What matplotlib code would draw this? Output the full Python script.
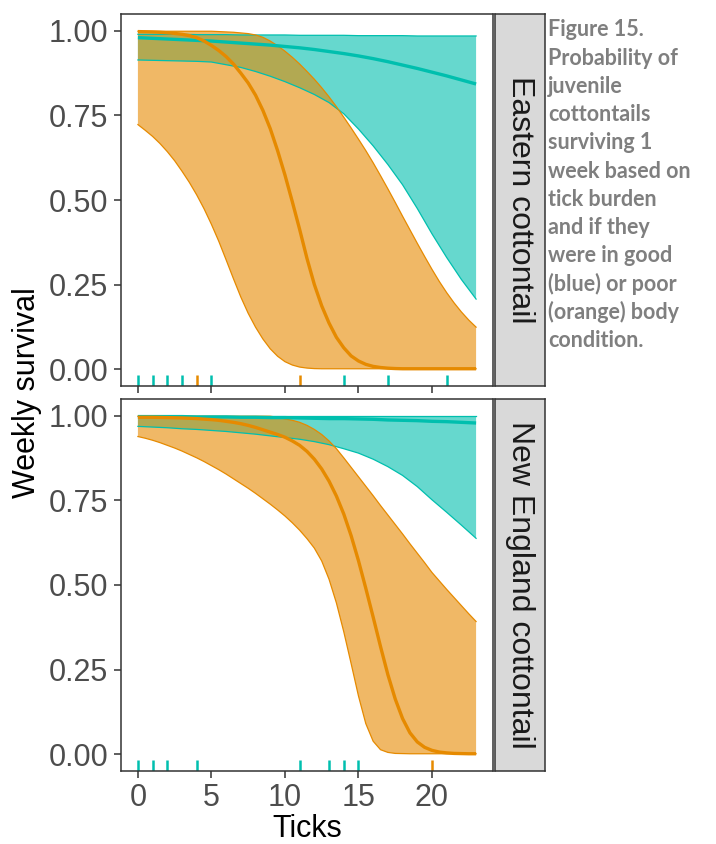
import matplotlib

matplotlib.use("Agg")
import matplotlib.pyplot as plt

# tick burden grids: good-condition curves read every tick, poor-condition every half tick
ticks_good = [0, 1, 2, 3, 4, 5, 6, 7, 8, 9, 10, 11, 12, 13, 14, 15, 16, 17, 18, 19, 20, 21, 22, 23]
ticks_poor = [0, 0.5, 1, 1.5, 2, 2.5, 3, 3.5, 4, 4.5, 5, 5.5, 6, 6.5, 7, 7.5, 8, 8.5, 9, 9.5,
              10, 10.5, 11, 11.5, 12, 12.5, 13, 13.5, 14, 14.5, 15, 15.5, 16, 16.5, 17, 17.5,
              18, 18.5, 19, 19.5, 20, 20.5, 21, 21.5, 22, 22.5, 23]

# Eastern cottontail, good (blue) body condition
east_good_fit = [0.980, 0.978, 0.976, 0.974, 0.972, 0.970, 0.967, 0.964, 0.961, 0.958, 0.954, 0.950,
                 0.945, 0.939, 0.933, 0.926, 0.918, 0.909, 0.899, 0.889, 0.878, 0.867, 0.855, 0.843]
east_good_lo = [0.914, 0.913, 0.912, 0.911, 0.910, 0.908, 0.900, 0.892, 0.880, 0.866, 0.850, 0.832,
                0.812, 0.788, 0.755, 0.710, 0.660, 0.605, 0.545, 0.475, 0.400, 0.330, 0.265, 0.207]
east_good_hi = [0.990, 0.990, 0.990, 0.990, 0.989, 0.989, 0.989, 0.988, 0.988, 0.988, 0.988, 0.987,
                0.987, 0.987, 0.987, 0.986, 0.986, 0.986, 0.986, 0.985, 0.985, 0.985, 0.985, 0.985]

# Eastern cottontail, poor (orange) body condition
east_poor_fit = [0.998, 0.9975, 0.997, 0.996, 0.9945, 0.9925, 0.990, 0.986, 0.980, 0.970,
                 0.957, 0.942, 0.924, 0.902, 0.875, 0.846, 0.810, 0.765, 0.711, 0.646,
                 0.574, 0.495, 0.413, 0.327, 0.250, 0.187, 0.136, 0.094, 0.063, 0.039,
                 0.024, 0.014, 0.008, 0.0047, 0.0027, 0.0016, 0.001, 0.001, 0.001, 0.001,
                 0.001, 0.001, 0.001, 0.001, 0.001, 0.001, 0.001]
east_poor_lo = [0.723, 0.706, 0.688, 0.667, 0.643, 0.616, 0.585, 0.552, 0.515, 0.474,
                0.428, 0.378, 0.323, 0.267, 0.213, 0.165, 0.124, 0.089, 0.060, 0.038,
                0.022, 0.012, 0.006, 0.003, 0.0015, 0.001, 0.001, 0.001, 0.001, 0.001,
                0.001, 0.001, 0.001, 0.001, 0.001, 0.001, 0.001, 0.001, 0.001, 0.001,
                0.001, 0.001, 0.001, 0.001, 0.001, 0.001, 0.001]
east_poor_hi = [0.999, 0.999, 0.999, 0.999, 0.999, 0.999, 0.999, 0.999, 0.999, 0.999,
                0.999, 0.998, 0.997, 0.996, 0.994, 0.992, 0.988, 0.981, 0.970, 0.956,
                0.940, 0.922, 0.902, 0.880, 0.857, 0.832, 0.805, 0.776, 0.745, 0.713,
                0.680, 0.646, 0.610, 0.572, 0.533, 0.493, 0.452, 0.412, 0.372, 0.333,
                0.295, 0.259, 0.226, 0.196, 0.169, 0.145, 0.124]

# New England cottontail, good condition
ne_good_fit = [0.998, 0.998, 0.998, 0.998, 0.997, 0.997, 0.997, 0.996, 0.996, 0.995, 0.995, 0.994,
               0.993, 0.992, 0.992, 0.991, 0.990, 0.988, 0.987, 0.986, 0.984, 0.983, 0.981, 0.979]
ne_good_lo = [0.969, 0.967, 0.965, 0.962, 0.960, 0.957, 0.954, 0.950, 0.946, 0.941, 0.936, 0.931,
              0.924, 0.915, 0.903, 0.890, 0.872, 0.850, 0.824, 0.791, 0.752, 0.715, 0.677, 0.638]
ne_good_hi = [0.999, 0.999, 0.999, 0.999, 0.999, 0.999, 0.999, 0.999, 0.999, 0.999, 0.999, 0.999,
              0.999, 0.999, 0.999, 0.999, 0.999, 0.999, 0.999, 0.999, 0.999, 0.999, 0.999, 0.999]

# New England cottontail, poor condition
ne_poor_fit = [0.996, 0.996, 0.996, 0.9955, 0.995, 0.9945, 0.994, 0.993, 0.992, 0.9905,
               0.989, 0.987, 0.984, 0.981, 0.977, 0.972, 0.966, 0.959, 0.952, 0.945,
               0.937, 0.926, 0.913, 0.895, 0.872, 0.843, 0.807, 0.763, 0.710, 0.646,
               0.572, 0.490, 0.405, 0.318, 0.235, 0.163, 0.105, 0.063, 0.036, 0.020,
               0.011, 0.006, 0.0035, 0.002, 0.0015, 0.001, 0.001]
ne_poor_lo = [0.939, 0.934, 0.928, 0.921, 0.913, 0.905, 0.896, 0.886, 0.876, 0.865,
              0.853, 0.841, 0.828, 0.814, 0.800, 0.786, 0.771, 0.755, 0.739, 0.722,
              0.704, 0.684, 0.662, 0.637, 0.609, 0.571, 0.517, 0.447, 0.362, 0.268,
              0.172, 0.090, 0.038, 0.013, 0.005, 0.002, 0.0015, 0.001, 0.001, 0.001,
              0.001, 0.001, 0.001, 0.001, 0.001, 0.001, 0.001]
ne_poor_hi = [0.999, 0.999, 0.999, 0.999, 0.999, 0.999, 0.999, 0.999, 0.999, 0.999,
              0.999, 0.999, 0.999, 0.999, 0.999, 0.999, 0.999, 0.999, 0.999, 0.996,
              0.991, 0.987, 0.981, 0.972, 0.960, 0.945, 0.926, 0.903, 0.876, 0.848,
              0.820, 0.792, 0.764, 0.735, 0.707, 0.679, 0.651, 0.622, 0.594, 0.566,
              0.537, 0.512, 0.487, 0.463, 0.439, 0.415, 0.392]

# observed tick counts (rug)
east_good_rug = [0, 1, 2, 3, 5, 14, 17, 21]
east_poor_rug = [4, 11]
ne_good_rug = [0, 1, 2, 4, 11, 13, 14, 15]
ne_poor_rug = [20]

panel_labels = ["Eastern cottontail", "New England cottontail"]
x_ticks = [0, 5, 10, 15, 20]
y_ticks = [0.0, 0.25, 0.5, 0.75, 1.0]
y_ticklabels = ["0.00", "0.25", "0.50", "0.75", "1.00"]
caption_lines = ["Figure 15.", "Probability of", "juvenile", "cottontails", "surviving 1",
                 "week based on", "tick burden", "and if they", "were in good",
                 "(blue) or poor", "(orange) body", "condition."]

TEAL = "#00BFAE"
ORANGE = "#E68A00"
FRAME = "#333333"

W, H = 716, 844
plt.rcParams["font.family"] = ["Liberation Sans", "DejaVu Sans"]


def px_box(left, top, right, bottom):
    return [left / W, 1 - bottom / H, (right - left) / W, (bottom - top) / H]


def draw_panel(ax, series, rugs, show_x):
    # ribbons first, then their edges, then the fitted lines (ggplot layer order)
    for x, fit, lo, hi, col in series:
        ax.fill_between(x, lo, hi, facecolor=col, alpha=0.6, linewidth=0)
        ax.plot(x, lo, color=col, linewidth=0.9)
        ax.plot(x, hi, color=col, linewidth=0.9)
    for x, fit, lo, hi, col in series:
        ax.plot(x, fit, color=col, linewidth=2.4, solid_capstyle="butt")
    for vals, col in rugs:
        for v in vals:
            ax.plot([v, v], [0, 0.03], transform=ax.get_xaxis_transform(), color=col,
                    linewidth=1.8, solid_capstyle="butt")
    ax.set_xlim(-1.15, 24.15)
    ax.set_ylim(-0.05, 1.05)
    ax.set_yticks(y_ticks)
    ax.set_yticklabels(y_ticklabels)
    ax.set_xticks(x_ticks)
    if not show_x:
        ax.tick_params(axis="x", labelbottom=False)
    ax.tick_params(colors=FRAME, labelcolor="#4D4D4D", labelsize=22, length=5, width=1.1, pad=4)
    for sp in ax.spines.values():
        sp.set_color(FRAME)
        sp.set_linewidth(1.1)


def draw_strip(fig, box, label):
    sax = fig.add_axes(box)
    sax.set_facecolor("#D9D9D9")
    sax.set_xticks([])
    sax.set_yticks([])
    for sp in sax.spines.values():
        sp.set_color(FRAME)
        sp.set_linewidth(1.1)
    sax.text(0.5, 0.5, label, rotation=-90, ha="center", va="center", fontsize=23,
             color="#1A1A1A", transform=sax.transAxes)


def main():
    fig = plt.figure(figsize=(W / 100, H / 100), dpi=100)

    ax1 = fig.add_axes(px_box(121, 14, 493, 386))
    draw_panel(ax1,
               [(ticks_good, east_good_fit, east_good_lo, east_good_hi, TEAL),
                (ticks_poor, east_poor_fit, east_poor_lo, east_poor_hi, ORANGE)],
               [(east_good_rug, TEAL), (east_poor_rug, ORANGE)], show_x=False)
    draw_strip(fig, px_box(495, 14, 545, 386), panel_labels[0])

    ax2 = fig.add_axes(px_box(121, 399, 493, 771))
    draw_panel(ax2,
               [(ticks_good, ne_good_fit, ne_good_lo, ne_good_hi, TEAL),
                (ticks_poor, ne_poor_fit, ne_poor_lo, ne_poor_hi, ORANGE)],
               [(ne_good_rug, TEAL), (ne_poor_rug, ORANGE)], show_x=True)
    draw_strip(fig, px_box(495, 399, 545, 771), panel_labels[1])

    fig.text(307 / W, 1 - 829 / H, "Ticks", ha="center", va="center", fontsize=22)
    fig.text(27 / W, 1 - 393 / H, "Weekly survival", ha="center", va="center",
             rotation=90, fontsize=22)

    for i, line in enumerate(caption_lines):
        fig.text(548 / W, 1 - (30 + i * 28.2) / H, line, ha="left", va="center",
                 fontsize=15.5, fontweight="bold", color="#7F7F7F", family=["Lato", "DejaVu Sans"])

    fig.savefig("out.png", dpi=100)
    plt.close(fig)


if __name__ == "__main__":
    main()
